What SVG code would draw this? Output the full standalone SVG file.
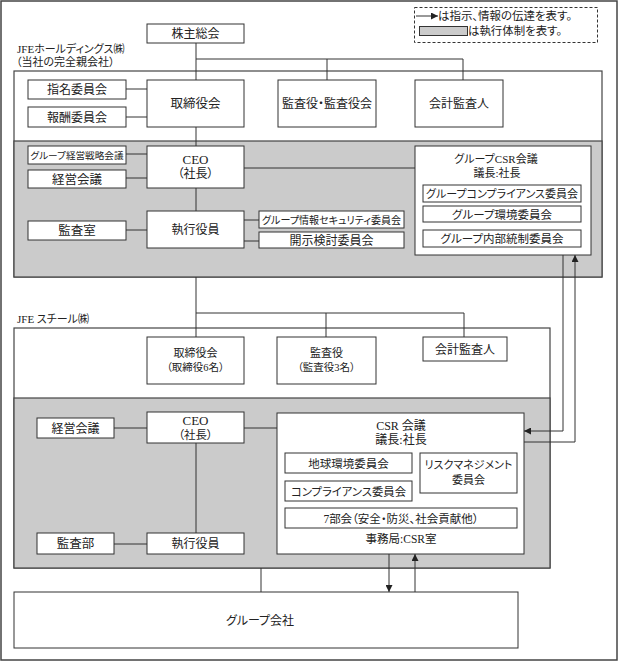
<svg xmlns="http://www.w3.org/2000/svg" width="619" height="662" viewBox="0 0 619 662">
<style>
text{font-family:"Liberation Serif","Noto Sans CJK JP",serif;fill:#222;font-feature-settings:"palt";}
.c{text-anchor:middle;}
.box{fill:#fff;stroke:#333;stroke-width:1;}
.frame{fill:#fff;stroke:#444;stroke-width:1.2;}
.gray{fill:#cbcbcb;stroke:#444;stroke-width:1.2;}
.ln{stroke:#333;stroke-width:1;fill:none;}
</style>
<defs>
<marker id="ah" viewBox="0 0 10 10" refX="10" refY="5" markerWidth="7" markerHeight="7" markerUnits="userSpaceOnUse" orient="auto">
<path d="M0,0 L10,5 L0,10 z" fill="#222"/>
</marker>
</defs>
<rect x="1" y="1" width="616" height="659" fill="#fff" stroke="#444" stroke-width="1.5"/>

<g id="legend">
<rect x="414.5" y="7.5" width="183" height="35" fill="none" stroke="#333" stroke-width="1" stroke-dasharray="3,2"/>
<line x1="416" y1="16" x2="438" y2="16" class="ln" marker-end="url(#ah)"/>
<text x="438" y="20" font-size="11" textLength="134" lengthAdjust="spacingAndGlyphs">は指示、情報の伝達を表す。</text>
<rect x="419.5" y="26.5" width="48" height="9" fill="#cbcbcb" stroke="#333"/>
<text x="468" y="35" font-size="11" textLength="94" lengthAdjust="spacingAndGlyphs">は執行体制を表す。</text>
</g>

<g id="hd-section">
<rect x="14" y="71" width="588" height="206" class="frame"/>
<rect x="14" y="141" width="588" height="136" class="gray"/>
<text x="17" y="53" font-size="11">JFEホールディングス㈱</text>
<text x="16" y="66" font-size="11">（当社の完全親会社）</text>
</g>

<g id="steel-section">
<rect x="14" y="328" width="536" height="240" class="frame"/>
<rect x="14" y="398" width="536" height="170" class="gray"/>
<text x="17" y="323" font-size="11">JFE スチール㈱</text>
</g>

<g id="connectors">
<line x1="196" y1="43" x2="196" y2="80" class="ln"/>
<polyline points="327,80 327,59 463,59 463,80" class="ln"/>
<line x1="196" y1="59" x2="327" y2="59" class="ln"/>
<line x1="126" y1="89" x2="147" y2="89" class="ln"/>
<line x1="126" y1="117" x2="147" y2="117" class="ln"/>
<line x1="196" y1="127" x2="196" y2="146" class="ln"/>
<line x1="126" y1="154" x2="147" y2="154" class="ln"/>
<line x1="126" y1="178" x2="147" y2="178" class="ln"/>
<line x1="244" y1="168" x2="415" y2="168" class="ln"/>
<line x1="196" y1="188" x2="196" y2="211" class="ln"/>
<line x1="126" y1="230" x2="147" y2="230" class="ln"/>
<line x1="244" y1="220" x2="259" y2="220" class="ln"/>
<line x1="244" y1="241" x2="259" y2="241" class="ln"/>
<line x1="196" y1="277" x2="196" y2="337" class="ln"/>
<polyline points="196,313 464,313 464,337" class="ln"/>
<line x1="326" y1="313" x2="326" y2="337" class="ln"/>
<line x1="114" y1="428" x2="147" y2="428" class="ln"/>
<line x1="244" y1="428" x2="277" y2="428" class="ln"/>
<line x1="196" y1="443" x2="196" y2="533" class="ln"/>
<line x1="114" y1="544" x2="147" y2="544" class="ln"/>
<line x1="261" y1="568" x2="261" y2="592" class="ln"/>
<line x1="389" y1="554" x2="389" y2="592" class="ln" marker-end="url(#ah)"/>
<line x1="415" y1="592" x2="415" y2="554" class="ln" marker-end="url(#ah)"/>
<polyline points="563,255 563,431 524,431" class="ln" marker-end="url(#ah)"/>
<polyline points="524,442 575,442 575,255" class="ln" marker-end="url(#ah)"/>
</g>

<g id="kabunushi"><rect x="147" y="24" width="97" height="19" class="box"/><text x="195.5" y="38" font-size="12" class="c">株主総会</text></g>
<g id="shimei"><rect x="28" y="80" width="98" height="19" class="box"/><text x="77" y="94" font-size="12" class="c">指名委員会</text></g>
<g id="hoshu"><rect x="28" y="107" width="98" height="20" class="box"/><text x="77" y="121.5" font-size="12" class="c">報酬委員会</text></g>
<g id="hd-torishimari"><rect x="147" y="80" width="97" height="47" class="box"/><text x="195.5" y="108" font-size="12.5" class="c">取締役会</text></g>
<g id="hd-kansa"><rect x="278" y="80" width="98" height="47" class="box"/><text x="327" y="108" font-size="12" class="c">監査役・監査役会</text></g>
<g id="hd-kaikei"><rect x="415" y="80" width="88" height="47" class="box"/><text x="459" y="108" font-size="12" class="c">会計監査人</text></g>
<g id="senryaku"><rect x="28" y="146" width="98" height="18" class="box"/><text x="77" y="158.5" font-size="9.5" class="c" textLength="93" lengthAdjust="spacingAndGlyphs">グループ経営戦略会議</text></g>
<g id="hd-keiei"><rect x="28" y="170" width="98" height="18" class="box"/><text x="77" y="183.5" font-size="12.5" class="c">経営会議</text></g>
<g id="hd-ceo"><rect x="147" y="146" width="97" height="42" class="box"/><text x="195.5" y="164" font-size="13" class="c">CEO</text><text x="195.5" y="178" font-size="12" class="c">（社長）</text></g>
<g id="kansashitsu"><rect x="28" y="221" width="98" height="19" class="box"/><text x="77" y="235" font-size="12.5" class="c">監査室</text></g>
<g id="hd-shikko"><rect x="147" y="211" width="97" height="37" class="box"/><text x="195.5" y="234" font-size="12" class="c">執行役員</text></g>
<g id="security"><rect x="259" y="211" width="145" height="17" class="box"/><text x="331.5" y="223.5" font-size="10.5" class="c" textLength="139" lengthAdjust="spacingAndGlyphs">グループ情報セキュリティ委員会</text></g>
<g id="kaiji"><rect x="259" y="232" width="145" height="16" class="box"/><text x="331.5" y="244.5" font-size="12" class="c">開示検討委員会</text></g>
<g id="group-csr"><rect x="415" y="146" width="176" height="109" class="box"/><text x="496" y="163" font-size="11" class="c">グループCSR会議</text><text x="497" y="176.5" font-size="11" class="c">議長:社長</text></g>
<g id="g-compliance"><rect x="423" y="185" width="158" height="17" class="box"/><text x="502" y="198" font-size="11" class="c" textLength="152" lengthAdjust="spacingAndGlyphs">グループコンプライアンス委員会</text></g>
<g id="g-kankyo"><rect x="423" y="206" width="158" height="16" class="box"/><text x="502" y="218.5" font-size="11.5" class="c">グループ環境委員会</text></g>
<g id="g-naibu"><rect x="423" y="230" width="158" height="17" class="box"/><text x="502" y="243" font-size="11.5" class="c">グループ内部統制委員会</text></g>

<g id="st-torishimari"><rect x="147" y="337" width="97" height="47" class="box"/><text x="195.5" y="357" font-size="11" class="c">取締役会</text><text x="195.5" y="371" font-size="10.5" class="c">（取締役6名）</text></g>
<g id="st-kansa"><rect x="277" y="337" width="99" height="47" class="box"/><text x="326.5" y="357" font-size="11" class="c">監査役</text><text x="326.5" y="371" font-size="10.5" class="c">（監査役3名）</text></g>
<g id="st-kaikei"><rect x="423" y="337" width="84" height="24" class="box"/><text x="465" y="353.5" font-size="12" class="c">会計監査人</text></g>
<g id="st-keiei"><rect x="37" y="418" width="77" height="20" class="box"/><text x="75.5" y="432.5" font-size="12" class="c">経営会議</text></g>
<g id="st-ceo"><rect x="147" y="412" width="97" height="31" class="box"/><text x="195.5" y="425" font-size="13" class="c">CEO</text><text x="195.5" y="439" font-size="11.5" class="c">（社長）</text></g>
<g id="kansabu"><rect x="37" y="533" width="77" height="21" class="box"/><text x="75.5" y="548" font-size="12.5" class="c">監査部</text></g>
<g id="st-shikko"><rect x="147" y="533" width="97" height="21" class="box"/><text x="195.5" y="548" font-size="12" class="c">執行役員</text></g>
<g id="csr"><rect x="277" y="413" width="247" height="141" class="box"/><text x="401" y="430" font-size="12" class="c">CSR 会議</text><text x="401" y="444" font-size="12" class="c">議長:社長</text><text x="401" y="543" font-size="11.5" class="c">事務局:CSR室</text></g>
<g id="chikyu"><rect x="285" y="453" width="127" height="20" class="box"/><text x="348.5" y="467.5" font-size="11.5" class="c">地球環境委員会</text></g>
<g id="compliance"><rect x="285" y="481" width="127" height="20" class="box"/><text x="348.5" y="495.5" font-size="11" class="c" textLength="115" lengthAdjust="spacingAndGlyphs">コンプライアンス委員会</text></g>
<g id="risk"><rect x="420" y="453" width="97" height="40" class="box"/><text x="468.5" y="468.5" font-size="11" class="c">リスクマネジメント</text><text x="468.5" y="484" font-size="11" class="c">委員会</text></g>
<g id="bukai"><rect x="285" y="508" width="232" height="20" class="box"/><text x="401" y="522.5" font-size="11.5" class="c">7部会（安全・防災、社会貢献他）</text></g>
<g id="group-companies"><rect x="14" y="592" width="504" height="56" class="box"/><text x="260" y="625" font-size="12" class="c">グループ会社</text></g>
</svg>
